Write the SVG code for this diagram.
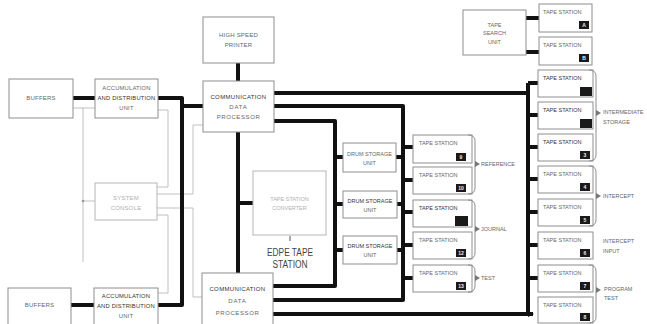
<svg xmlns="http://www.w3.org/2000/svg" width="647" height="324" viewBox="0 0 647 324">
<style>
.box{fill:#fff;stroke:#8e8e8e;stroke-width:1}
.faintbox{fill:#fff;stroke:#b5b5b5;stroke-width:1}
.thick{fill:none;stroke:#111;stroke-width:4;stroke-linejoin:round}
.thin{fill:none;stroke:#b0b0b0;stroke-width:0.8}
.br{fill:none;stroke:#8e8e8e;stroke-width:1}
.ah{fill:#777}
text{font-family:"Liberation Sans",Arial,sans-serif;fill:#666}
.t{font-size:6px;letter-spacing:0.2px}
.s{font-size:5.5px}
.c{text-anchor:middle}
.dk{fill:#333}
.fa{fill:#b0b0b0}
.tag{fill:#1a1a1a}
.tn{font-size:5px;fill:#eee;text-anchor:middle;font-weight:bold}
.big{font-size:10px;fill:#444;text-anchor:middle}
</style>
<defs>
<marker id="arr" markerWidth="6" markerHeight="6" refX="5" refY="3" orient="auto" markerUnits="userSpaceOnUse">
<path d="M0,0 L6,3 L0,6 Z" fill="#111"/>
</marker>
</defs>

<g id="connectors">
<!-- thin control lines -->
<path class="thin" d="M73,108 H95 M83,108 V262 M83,201 H95"/>
<circle cx="83" cy="201" r="1.3" fill="#999"/>
<path class="thin" d="M158,110 H168 V187 H157"/>
<path class="thin" d="M157,215 H168 V293 H158"/>
<path class="thin" d="M157,194 H193 V125 H203"/>
<path class="thin" d="M157,208 H193 V297 H202"/>
<!-- thick data lines -->
<path class="thick" d="M73,98 H95"/>
<path class="thick" d="M71,305 H94"/>
<path class="thick" d="M158,98 H182 V305 H158"/>
<path class="thick" d="M182,106 H203"/>
<path class="thick" d="M238,63 V81"/>
<path class="thick" d="M238,132 V273"/>
<path class="thick" d="M238,203 H253"/>
<path class="thick" d="M274,93 H528"/>
<path class="thick" d="M274,106 H403 V300 H273"/>
<path class="thick" d="M274,121 H335 V286 H273"/>
<path class="thick" d="M273,314 H533" marker-end="url(#arr)"/>
<path class="thick" d="M528,83 V314"/>
<path class="thick" d="M335,157 H343 M335,204 H343 M335,250 H343"/>
<path class="thick" d="M396,157 H403 M397,204 H403 M397,250 H403"/>
<path class="thick" d="M403,147 H413 M403,180 H413 M403,212 H413 M403,245 H413 M403,278 H413"/>
<path class="thick" d="M528,83 H538 M528,115 H538 M528,147 H538 M528,179 H538 M528,212 H538 M528,245 H538 M528,278 H538"/>
<path class="thick" d="M526,18 H539 M526,52 H539"/>
<path d="M290,236 V241" stroke="#555" stroke-width="1"/>
</g>

<g id="buffers1"><rect class="box" x="9" y="79" width="64" height="39"/><text class="t c" x="41" y="100">BUFFERS</text></g>
<g id="accum1"><rect class="box" x="95" y="79" width="63" height="39"/>
<text class="t c" x="126.5" y="90" style="font-size:5.8px">ACCUMULATION</text>
<text class="t c dk" x="126.5" y="100" style="font-size:5.8px">AND DISTRIBUTION</text>
<text class="t c" x="126.5" y="110" style="font-size:5.8px">UNIT</text></g>
<g id="printer"><rect class="box" x="203" y="17" width="71" height="46"/>
<text class="t c" x="238.5" y="37">HIGH SPEED</text><text class="t c" x="238.5" y="47">PRINTER</text></g>
<g id="comm1"><rect class="box" x="203" y="81" width="71" height="51"/>
<text class="t c dk" x="238.5" y="99" style="letter-spacing:0.35px">COMMUNICATION</text>
<text class="t c" x="238.5" y="109" style="letter-spacing:0.8px">DATA</text>
<text class="t c" x="238.5" y="119" style="letter-spacing:0.6px">PROCESSOR</text></g>
<g id="console"><rect class="faintbox" x="95" y="183" width="62" height="37"/>
<text class="t c fa" x="126" y="200">SYSTEM</text><text class="t c fa" x="126" y="210">CONSOLE</text></g>
<g id="converter"><rect class="faintbox" x="253" y="171" width="73" height="64"/>
<text class="s c fa" x="289.5" y="201">TAPE STATION</text><text class="s c fa" x="289.5" y="210">CONVERTER</text></g>
<g id="edpe"><text class="big" x="290" y="256" textLength="46" lengthAdjust="spacingAndGlyphs">EDPE TAPE</text>
<text class="big" x="290" y="268" textLength="35" lengthAdjust="spacingAndGlyphs">STATION</text></g>
<g id="drum1"><rect class="box" x="343" y="143" width="53" height="29"/><text class="s c" x="369.5" y="156">DRUM STORAGE</text><text class="s c" x="369.5" y="165">UNIT</text></g>
<g id="drum2"><rect class="box" x="343" y="191" width="54" height="27"/><text class="s c dk" x="370" y="203">DRUM STORAGE</text><text class="s c" x="370" y="212">UNIT</text></g>
<g id="drum3"><rect class="box" x="343" y="236" width="54" height="28"/><text class="s c dk" x="370" y="248">DRUM STORAGE</text><text class="s c" x="370" y="257">UNIT</text></g>
<g id="comm2"><rect class="box" x="202" y="273" width="71" height="60"/>
<text class="t c dk" x="237.5" y="291" style="letter-spacing:0.35px">COMMUNICATION</text>
<text class="t c" x="237.5" y="303" style="letter-spacing:0.8px">DATA</text>
<text class="t c" x="237.5" y="315" style="letter-spacing:0.6px">PROCESSOR</text></g>
<g id="buffers2"><rect class="box" x="8" y="288" width="63" height="45"/><text class="t c" x="39.5" y="307">BUFFERS</text></g>
<g id="accum2"><rect class="box" x="94" y="288" width="64" height="45"/>
<text class="t c dk" x="126" y="298" style="font-size:5.8px">ACCUMULATION</text>
<text class="t c dk" x="126" y="308" style="font-size:5.8px">AND DISTRIBUTION</text>
<text class="t c" x="126" y="318" style="font-size:5.8px">UNIT</text></g>
<g id="tsu"><rect class="box" x="463" y="10" width="63" height="45"/>
<text class="s c" x="494.5" y="27">TAPE</text><text class="s c" x="494.5" y="35">SEARCH</text><text class="s c" x="494.5" y="44">UNIT</text></g>
<g id="tsA"><rect class="box" x="539" y="4" width="53" height="28"/><text class="s" x="543" y="14">TAPE STATION</text><rect class="tag" x="579" y="21" width="10" height="8"/><text class="tn" x="584" y="27">A</text></g>
<g id="tsB"><rect class="box" x="539" y="37" width="53" height="28"/><text class="s" x="543" y="47">TAPE STATION</text><rect class="tag" x="579" y="54" width="10" height="8"/><text class="tn" x="584" y="60">B</text></g>

<g id="r1"><rect class="box" x="538" y="70" width="55" height="27"/><text class="s dk" x="543" y="80">TAPE STATION</text><rect class="tag" x="580" y="87" width="12" height="9"/></g>
<g id="r2"><rect class="box" x="538" y="102" width="55" height="27"/><text class="s dk" x="543" y="112">TAPE STATION</text><rect class="tag" x="580" y="119" width="12" height="9"/></g>
<g id="r3"><rect class="box" x="538" y="134" width="55" height="27"/><text class="s dk" x="543" y="144">TAPE STATION</text><rect class="tag" x="580" y="151" width="10" height="8"/><text class="tn" x="585" y="157">3</text></g>
<g id="r4"><rect class="box" x="538" y="166" width="55" height="27"/><text class="s" x="543" y="176">TAPE STATION</text><rect class="tag" x="580" y="183" width="10" height="8"/><text class="tn" x="585" y="189">4</text></g>
<g id="r5"><rect class="box" x="538" y="199" width="55" height="27"/><text class="s" x="543" y="209">TAPE STATION</text><rect class="tag" x="580" y="216" width="10" height="8"/><text class="tn" x="585" y="222">5</text></g>
<g id="r6"><rect class="box" x="538" y="232" width="55" height="27"/><text class="s" x="543" y="242">TAPE STATION</text><rect class="tag" x="580" y="249" width="10" height="8"/><text class="tn" x="585" y="255">6</text></g>
<g id="r7"><rect class="box" x="538" y="265" width="55" height="27"/><text class="s" x="543" y="275">TAPE STATION</text><rect class="tag" x="580" y="282" width="10" height="8"/><text class="tn" x="585" y="288">7</text></g>
<g id="r8"><rect class="box" x="538" y="297" width="55" height="26"/><text class="s" x="543" y="307">TAPE STATION</text><rect class="tag" x="580" y="313" width="10" height="8"/><text class="tn" x="585" y="319">8</text></g>

<g id="m1"><rect class="box" x="413" y="135" width="59" height="28"/><text class="s" x="419" y="145">TAPE STATION</text><rect class="tag" x="456" y="153" width="10" height="8"/><text class="tn" x="461" y="159">9</text></g>
<g id="m2"><rect class="box" x="413" y="167" width="59" height="27"/><text class="s" x="419" y="177">TAPE STATION</text><rect class="tag" x="456" y="184" width="10" height="8"/><text class="tn" x="461" y="190">10</text></g>
<g id="m3"><rect class="box" x="413" y="200" width="59" height="27"/><text class="s dk" x="419" y="210">TAPE STATION</text><rect class="tag" x="455" y="216" width="13" height="10"/></g>
<g id="m4"><rect class="box" x="413" y="232" width="59" height="27"/><text class="s" x="419" y="242">TAPE STATION</text><rect class="tag" x="456" y="249" width="10" height="8"/><text class="tn" x="461" y="255">12</text></g>
<g id="m5"><rect class="box" x="413" y="265" width="59" height="27"/><text class="s" x="419" y="275">TAPE STATION</text><rect class="tag" x="456" y="282" width="10" height="8"/><text class="tn" x="461" y="288">13</text></g>

<g id="brace-reference"><path class="br" d="M468,135 q7,0 7,6 V188 q0,6 -7,6"/><path class="ah" d="M475,161 L480,164 L475,167 Z"/><text class="s" x="481" y="166">REFERENCE</text></g>
<g id="brace-journal"><path class="br" d="M468,200 q7,0 7,6 V253 q0,6 -7,6"/><path class="ah" d="M475,226 L480,229 L475,232 Z"/><text class="s" x="481" y="231">JOURNAL</text></g>
<g id="brace-test"><path class="br" d="M468,265 q7,0 7,6 V286 q0,6 -7,6"/><path class="ah" d="M475,275 L480,278 L475,281 Z"/><text class="s" x="481" y="280">TEST</text></g>
<g id="brace-intermediate"><path class="br" d="M589,70 q7,0 7,6 V155 q0,6 -7,6"/><path class="ah" d="M596,110 L601,113 L596,116 Z"/><text class="s" x="603" y="114">INTERMEDIATE</text><text class="s" x="603" y="124">STORAGE</text></g>
<g id="brace-intercept"><path class="br" d="M589,166 q7,0 7,6 V220 q0,6 -7,6"/><path class="ah" d="M596,193 L601,196 L596,199 Z"/><text class="s" x="603" y="198">INTERCEPT</text></g>
<g id="label-intercept-input"><text class="s" x="603" y="243">INTERCEPT</text><text class="s" x="603" y="253">INPUT</text></g>
<g id="brace-program"><path class="br" d="M589,265 q7,0 7,6 V317 q0,6 -7,6"/><path class="ah" d="M596,287 L601,290 L596,293 Z"/><text class="s" x="604" y="291">PROGRAM</text><text class="s" x="604" y="300">TEST</text></g>
</svg>
